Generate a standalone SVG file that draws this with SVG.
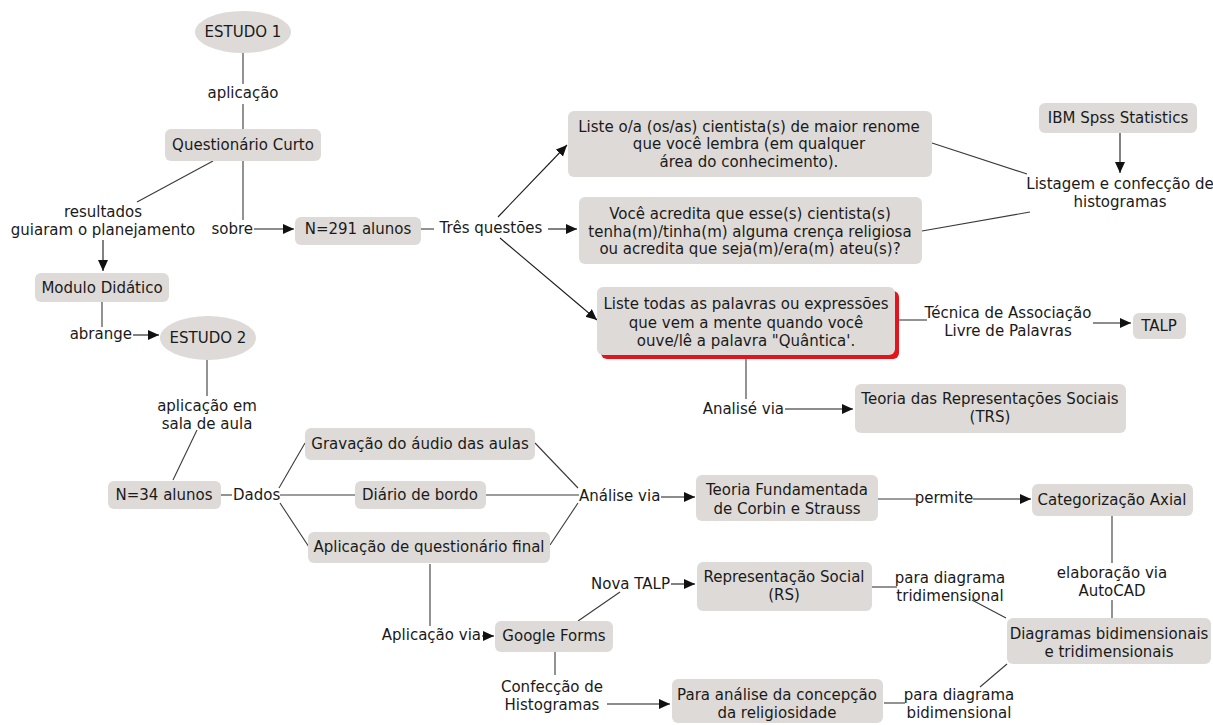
<svg xmlns="http://www.w3.org/2000/svg" width="1213" height="725" viewBox="0 0 1213 725">
<style>
  text { font-family: "DejaVu Sans", Verdana, sans-serif; font-size: 15px; fill: #1a1a1a; }
  .c { text-anchor: middle; }
  .e { text-anchor: end; }
  .box { fill: #dedad8; }
  .ln { stroke: #3a3a3a; stroke-width: 1.1; fill: none; }
  .ar { stroke: #1a1a1a; stroke-width: 1.1; fill: none; marker-end: url(#arrow); }
</style>
<defs>
  <marker id="arrow" markerUnits="userSpaceOnUse" markerWidth="12" markerHeight="11" refX="11" refY="5" orient="auto">
    <path d="M0,0 L11,5 L0,10 z" fill="#111"/>
  </marker>
</defs>
<rect width="1213" height="725" fill="#fff"/>

<g id="connectors">
  <!-- Estudo 1 / aplicação -->
  <line class="ln" x1="243" y1="53" x2="243" y2="84"/>
  <text class="c" x="243" y="98">aplicação</text>
  <line class="ln" x1="243" y1="104" x2="243" y2="129"/>
  <!-- sobre -->
  <line class="ln" x1="243" y1="161" x2="243" y2="220"/>
  <text class="e" x="253" y="234">sobre</text>
  <line class="ar" x1="254" y1="229" x2="294" y2="229"/>
  <!-- resultados -->
  <line class="ln" x1="213" y1="161" x2="137" y2="202"/>
  <text class="c" x="103" y="217">resultados</text>
  <text class="c" x="103" y="235">guiaram o planejamento</text>
  <line class="ar" x1="103" y1="240" x2="103" y2="271"/>
  <!-- abrange -->
  <line class="ln" x1="102" y1="302" x2="102" y2="327"/>
  <text class="e" x="132" y="339">abrange</text>
  <line class="ar" x1="133" y1="335" x2="159" y2="335"/>
  <!-- aplicação em sala de aula -->
  <line class="ln" x1="207" y1="360" x2="207" y2="396"/>
  <text class="c" x="207" y="411">aplicação em</text>
  <text class="c" x="207" y="429">sala de aula</text>
  <line class="ln" x1="197" y1="430" x2="173" y2="480"/>
  <!-- Dados -->
  <line class="ln" x1="221" y1="495" x2="232" y2="495"/>
  <text x="233" y="500">Dados</text>
  <line class="ln" x1="279" y1="488" x2="305" y2="443"/>
  <line class="ln" x1="280" y1="495" x2="355" y2="495"/>
  <line class="ln" x1="280" y1="503" x2="309" y2="547"/>
  <!-- Análise via -->
  <line class="ln" x1="535" y1="443" x2="578" y2="488"/>
  <line class="ln" x1="486" y1="495" x2="579" y2="495"/>
  <line class="ln" x1="550" y1="545" x2="578" y2="503"/>
  <text x="579" y="501">Análise via</text>
  <line class="ar" x1="661" y1="497" x2="695" y2="497"/>
  <!-- permite -->
  <line class="ln" x1="878" y1="499" x2="916" y2="499"/>
  <text class="c" x="944" y="503">permite</text>
  <line class="ar" x1="973" y1="499" x2="1031" y2="499"/>
  <!-- elaboração via AutoCAD -->
  <line class="ln" x1="1112" y1="516" x2="1112" y2="563"/>
  <text class="c" x="1112" y="578">elaboração via</text>
  <text class="c" x="1112" y="596">AutoCAD</text>
  <line class="ln" x1="1112" y1="600" x2="1112" y2="618"/>
  <!-- para diagrama tridimensional -->
  <line class="ln" x1="872" y1="587" x2="897" y2="587"/>
  <text class="c" x="950" y="583">para diagrama</text>
  <text class="c" x="950" y="601">tridimensional</text>
  <line class="ln" x1="972" y1="600" x2="1006" y2="618"/>
  <!-- para diagrama bidimensional -->
  <line class="ln" x1="1007" y1="664" x2="980" y2="687"/>
  <line class="ln" x1="884" y1="703" x2="905" y2="703"/>
  <text class="c" x="959" y="700">para diagrama</text>
  <text class="c" x="959" y="718">bidimensional</text>
  <!-- Aplicação via -->
  <line class="ln" x1="430" y1="564" x2="430" y2="626"/>
  <text class="e" x="481" y="640">Aplicação via</text>
  <line class="ar" x1="482" y1="636" x2="494" y2="636"/>
  <!-- Nova TALP -->
  <line class="ln" x1="578" y1="621" x2="620" y2="592"/>
  <text class="e" x="670" y="589">Nova TALP</text>
  <line class="ar" x1="671" y1="584" x2="695" y2="584"/>
  <!-- Confecção de Histogramas -->
  <line class="ln" x1="555" y1="652" x2="555" y2="675"/>
  <text class="c" x="552" y="692">Confecção de</text>
  <text class="c" x="552" y="710">Histogramas</text>
  <line class="ar" x1="607" y1="704" x2="670" y2="704"/>
  <!-- Três questões -->
  <line class="ln" x1="421" y1="229" x2="434" y2="229"/>
  <text class="c" x="491" y="233">Três questões</text>
  <line class="ar" x1="548" y1="229" x2="577" y2="229"/>
  <line class="ar" x1="498" y1="217" x2="567" y2="145"/>
  <line class="ar" x1="500" y1="238" x2="597" y2="320"/>
  <!-- Listagem -->
  <line class="ln" x1="932" y1="143" x2="1027" y2="174"/>
  <line class="ln" x1="922" y1="231" x2="1030" y2="212"/>
  <line class="ar" x1="1120" y1="133" x2="1120" y2="173"/>
  <text class="c" x="1120" y="189">Listagem e confecção de</text>
  <text class="c" x="1120" y="207">histogramas</text>
  <!-- Técnica de Associação -->
  <line class="ln" x1="895" y1="320" x2="927" y2="320"/>
  <text class="c" x="1008" y="318">Técnica de Associação</text>
  <text class="c" x="1008" y="336">Livre de Palavras</text>
  <line class="ar" x1="1093" y1="323" x2="1131" y2="323"/>
  <!-- Analisé via -->
  <line class="ln" x1="746" y1="355" x2="746" y2="399"/>
  <text class="e" x="784" y="414">Analisé via</text>
  <line class="ar" x1="785" y1="409" x2="853" y2="409"/>
</g>

<g id="estudo1"><ellipse class="box" cx="243" cy="32" rx="48" ry="21"/><text class="c" x="243" y="37">ESTUDO 1</text></g>
<g id="questionario-curto"><rect class="box" x="165" y="129" width="156" height="32" rx="6"/><text class="c" x="243" y="150">Questionário Curto</text></g>
<g id="n291"><rect class="box" x="295" y="217" width="126" height="28" rx="6"/><text class="c" x="358" y="234">N=291 alunos</text></g>
<g id="modulo-didatico"><rect class="box" x="35" y="273" width="134" height="29" rx="6"/><text class="c" x="102" y="293">Modulo Didático</text></g>
<g id="estudo2"><ellipse class="box" cx="208" cy="338" rx="48" ry="22"/><text class="c" x="208" y="343">ESTUDO 2</text></g>
<g id="n34"><rect class="box" x="108" y="481" width="113" height="28" rx="6"/><text class="c" x="164" y="500">N=34 alunos</text></g>
<g id="gravacao"><rect class="box" x="305" y="428" width="230" height="32" rx="6"/><text class="c" x="420" y="449">Gravação do áudio das aulas</text></g>
<g id="diario"><rect class="box" x="355" y="481" width="131" height="28" rx="6"/><text class="c" x="420" y="500">Diário de bordo</text></g>
<g id="aplicacao-questionario"><rect class="box" x="308" y="532" width="242" height="31" rx="6"/><text class="c" x="429" y="552">Aplicação de questionário final</text></g>
<g id="teoria-fundamentada"><rect class="box" x="696" y="475" width="182" height="46" rx="6"/><text class="c" x="787" y="495">Teoria Fundamentada</text><text class="c" x="787" y="514">de Corbin e Strauss</text></g>
<g id="categorizacao-axial"><rect class="box" x="1032" y="484" width="161" height="32" rx="6"/><text class="c" x="1112" y="505">Categorização Axial</text></g>
<g id="diagramas"><rect class="box" x="1007" y="618" width="204" height="46" rx="6"/><text class="c" x="1109" y="639">Diagramas bidimensionais</text><text class="c" x="1109" y="657">e tridimensionais</text></g>
<g id="representacao-social"><rect class="box" x="697" y="562" width="175" height="49" rx="6"/><text class="c" x="784" y="582">Representação Social</text><text class="c" x="784" y="600">(RS)</text></g>
<g id="google-forms"><rect class="box" x="495" y="621" width="118" height="31" rx="6"/><text class="c" x="554" y="641">Google Forms</text></g>
<g id="para-analise"><rect class="box" x="672" y="679" width="211" height="44" rx="6"/><text class="c" x="777" y="700">Para análise da concepção</text><text class="c" x="777" y="718">da religiosidade</text></g>
<g id="questao1"><rect class="box" x="568" y="111" width="364" height="66" rx="6"/><text class="c" x="749" y="132">Liste o/a (os/as) cientista(s) de maior renome</text><text class="c" x="749" y="149">que você lembra (em qualquer</text><text class="c" x="749" y="167">área do conhecimento).</text></g>
<g id="questao2"><rect class="box" x="579" y="197" width="343" height="67" rx="6"/><text class="c" x="750" y="219">Você acredita que esse(s) cientista(s)</text><text class="c" x="750" y="237">tenha(m)/tinha(m) alguma crença religiosa</text><text class="c" x="750" y="254">ou acredita que seja(m)/era(m) ateu(s)?</text></g>
<g id="questao3"><rect x="601" y="291" width="298" height="68" rx="6" fill="#e3141b"/><rect class="box" x="597" y="287" width="298" height="68" rx="6"/><text class="c" x="746" y="309">Liste todas as palavras ou expressões</text><text class="c" x="746" y="328">que vem a mente quando você</text><text class="c" x="746" y="346">ouve/lê a palavra "Quântica'.</text></g>
<g id="ibm-spss"><rect class="box" x="1039" y="103" width="158" height="30" rx="6"/><text class="c" x="1118" y="123">IBM Spss Statistics</text></g>
<g id="talp"><rect class="box" x="1133" y="313" width="53" height="26" rx="6"/><text class="c" x="1159" y="331">TALP</text></g>
<g id="trs"><rect class="box" x="855" y="384" width="271" height="49" rx="6"/><text class="c" x="990" y="404">Teoria das Representações Sociais</text><text class="c" x="990" y="422">(TRS)</text></g>
</svg>
